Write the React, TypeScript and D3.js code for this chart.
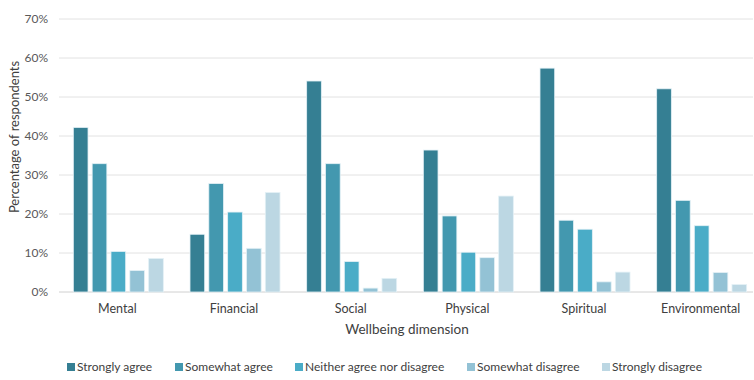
import React from "react";
import * as d3 from "d3";

const categories = ["Mental", "Financial", "Social", "Physical", "Spiritual", "Environmental"];
const seriesNames = ["Strongly agree", "Somewhat agree", "Neither agree nor disagree", "Somewhat disagree", "Strongly disagree"];
const stronglyAgree = [42.2, 14.8, 54.1, 36.4, 57.4, 52.1];
const somewhatAgree = [32.9, 27.8, 32.9, 19.5, 18.4, 23.5];
const neither = [10.4, 20.5, 7.8, 10.2, 16.1, 17.0];
const somewhatDisagree = [5.5, 11.2, 1.0, 8.8, 2.6, 5.0];
const stronglyDisagree = [8.6, 25.5, 3.5, 24.6, 5.1, 1.9];
const yTicks = [0, 10, 20, 30, 40, 50, 60, 70];
const colors = ["#357f93", "#4398af", "#4aacc7", "#93c2d5", "#bcd7e3"];

const series = [stronglyAgree, somewhatAgree, neither, somewhatDisagree, stronglyDisagree];

export default function App() {
  const W = 754, H = 380;
  const left = 59, right = 759, top = 19, bottom = 292;
  const x0 = d3.scaleBand().domain(categories).range([left, right]).paddingInner(0).paddingOuter(0);
  const x1 = d3.scaleBand().domain(seriesNames).range([0, 90]).paddingInner(0.22);
  const y = d3.scaleLinear().domain([0, 70]).range([bottom, top]);
  const font = "Lato, 'Open Sans', sans-serif";
  const groupOffset = (x0.bandwidth() - 88) / 2;
  const legendX = [67, 175, 295, 467, 602];
  return (
    <svg width={W} height={H} style={{ position: "absolute", left: 0, top: 0 }} fontFamily={font}>
      <rect x={0} y={0} width={W} height={H} fill="#fff" />
      {yTicks.map((t) => (
        <g key={t}>
          <line x1={left} x2={753} y1={y(t)} y2={y(t)} stroke={t === 0 ? "#d0d0d0" : "#e2e2e2"} strokeWidth={1} />
          <text x={48} y={y(t)} dy="0.35em" textAnchor="end" fontSize={12} fill="#595959">{t}%</text>
        </g>
      ))}
      {categories.map((c, ci) => (
        <g key={c} transform={`translate(${x0(c)! + groupOffset},0)`}>
          {seriesNames.map((s, si) => {
            const v = series[si][ci];
            return (
              <rect key={s} x={x1(s)!} y={y(v)} width={x1.bandwidth()} height={bottom - y(v)}
                fill={colors[si]} stroke="#e4f1f6" strokeWidth={0.8} />
            );
          })}
          <text x={44} y={309} dy="0.35em" textAnchor="middle" fontSize={12.5} fill="#404040">{c}</text>
        </g>
      ))}
      <text x={407} y={329} dy="0.35em" textAnchor="middle" fontSize={13.5} fill="#404040">Wellbeing dimension</text>
      <text transform={`translate(14,137) rotate(-90)`} dy="0.35em" textAnchor="middle" fontSize={13} fill="#404040">Percentage of respondents</text>
      {seriesNames.map((s, i) => (
        <g key={s}>
          <rect x={legendX[i]} y={363} width={8} height={8} fill={colors[i]} />
          <text x={legendX[i] + 10} y={367} dy="0.35em" fontSize={12} fill="#404040">{s}</text>
        </g>
      ))}
    </svg>
  );
}
